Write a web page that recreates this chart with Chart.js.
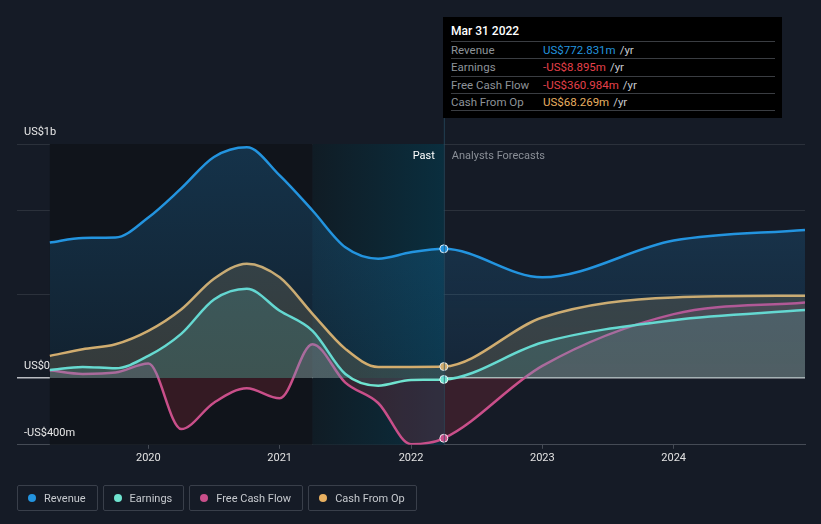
<!DOCTYPE html>
<html>
<head>
<meta charset="utf-8">
<script src="https://cdn.jsdelivr.net/npm/chart.js@4.4.1/dist/chart.umd.min.js"></script>
<style>
  html, body { margin:0; padding:0; background:#151b26; }
  body { width:821px; height:524px; position:relative; overflow:hidden; font-family:Roboto, "Noto Sans", sans-serif; }
  #wrap { position:absolute; left:0; top:0; width:821px; height:524px; }
  #tip { position:absolute; left:443px; top:17px; width:339px; height:101px; background:#000; box-sizing:border-box; padding:7px 7px 0 8px; }
  #tip .title { color:#fff; font-size:12px; font-weight:500; height:17px; line-height:15px; }
  #tip .row { border-top:1px solid #3a3d42; height:16.3px; line-height:16.3px; font-size:11.5px; color:#8e9399; display:flex; }
  #tip .row:last-child { border-bottom:1px solid #3a3d42; }
  #tip .lab { width:92px; }
  #tip .unit { color:#c8cbd0; margin-left:4px; }
  #legend { position:absolute; left:17px; top:485px; display:flex; gap:5px; }
  .item { height:26px; box-sizing:border-box; border:1px solid #393f4a; border-radius:2px; display:flex; align-items:center; padding:0 11px 0 10px; font-size:11px; color:#c6c9ce; }
  .dot { width:8px; height:8px; border-radius:50%; margin-right:8px; }
</style>
</head>
<body>
<div id="wrap"><canvas id="chart" width="821" height="524"></canvas></div>
<div id="tip"></div>
<div id="legend"></div>
<script>
// dates as decimal years (quarterly past, yearly analyst forecasts)
const dates    = [2019.25, 2019.5, 2019.75, 2020, 2020.25, 2020.5, 2020.75, 2021, 2021.25, 2021.5, 2021.75, 2022, 2022.25, 2023, 2024, 2025];
const revenue  = [810, 838, 840, 960, 1134, 1322, 1380, 1212, 1002, 782, 714, 752, 772.831, 602, 822, 886];
const earnings = [48, 66, 58, 132, 264, 470, 534, 402, 282, 24, -46, -12, -8.895, 212, 346, 406];
const fcf      = [46, 24, 32, 86, -306, -148, -62, -122, 202, -28, -150, -396, -360.984, 72, 382, 452];
const cfo      = [132, 172, 202, 282, 410, 594, 684, 602, 384, 174, 66, 66, 68.269, 362, 482, 492];

const seriesNames = ["Revenue", "Earnings", "Free Cash Flow", "Cash From Op"];
const colors = ["#2394df", "#6fe3cf", "#c94f8a", "#e8b060"];
const xTicks = [2020, 2021, 2022, 2023, 2024];
const yGrid = [-400, 0, 500, 1000, 1400];
const yLabels = [[1400, "US$1b"], [0, "US$0"], [-400, "-US$400m"]];
const nowIndex = 12;   // Mar 31 2022
const tipTitle = "Mar 31 2022";
const tipValues = ["US$772.831m", "-US$8.895m", "-US$360.984m", "US$68.269m"];
const tipColors = ["#2394df", "#e5404b", "#e5404b", "#e8b060"];

// tooltip box
const tip = document.getElementById("tip");
let html = `<div class="title">${tipTitle}</div>`;
seriesNames.forEach((n, i) => {
  html += `<div class="row"><span class="lab">${n}</span><span style="color:${tipColors[i]}">${tipValues[i]}</span><span class="unit">/yr</span></div>`;
});
tip.innerHTML = html;

// legend
const legend = document.getElementById("legend");
seriesNames.forEach((n, i) => {
  legend.innerHTML += `<div class="item"><span class="dot" style="background:${colors[i]}"></span>${n}</div>`;
});

function pts(arr){ return arr.map((v, i) => ({ x: dates[i], y: v })); }

function ds(label, arr, color, above, below){
  return {
    label,
    data: pts(arr),
    borderColor: color,
    borderWidth: 2.5,
    cubicInterpolationMode: "monotone",
    fill: { target: "origin", above: above, below: below },
    pointRadius: c => c.dataIndex === nowIndex ? 4 : 0,
    pointBackgroundColor: color,
    pointBorderColor: "rgba(255,255,255,0.85)",
    pointBorderWidth: 1,
    pointHoverRadius: 0
  };
}

// revenue fill fades a little towards zero
function revFill(c){
  const { chart } = c;
  const a = chart.chartArea;
  if (!a) return "rgba(35,148,223,0.2)";
  const y = chart.scales.y;
  const g = chart.ctx.createLinearGradient(0, a.top, 0, y.getPixelForValue(0));
  g.addColorStop(0, "rgba(35,148,223,0.24)");
  g.addColorStop(1, "rgba(35,148,223,0.1)");
  return g;
}

// background bands + labels
const decor = {
  id: "decor",
  beforeDatasetsDraw(chart){
    const { ctx, chartArea: a, scales: { x } } = chart;
    const x0 = x.getPixelForValue(dates[0]);
    const x1 = x.getPixelForValue(dates[nowIndex] - 1);
    const x2 = x.getPixelForValue(dates[nowIndex]);
    ctx.save();
    ctx.fillStyle = "#10141b";
    ctx.fillRect(x0, a.top, x1 - x0, a.bottom - a.top);
    const g = ctx.createLinearGradient(x1, 0, x2, 0);
    g.addColorStop(0, "#101c25");
    g.addColorStop(1, "#0a2e3e");
    ctx.fillStyle = g;
    ctx.fillRect(x1, a.top, x2 - x1, a.bottom - a.top);
    ctx.restore();
  },
  afterDatasetsDraw(chart){
    const { ctx, chartArea: a, scales: { x, y } } = chart;
    const xn = x.getPixelForValue(dates[nowIndex]);
    ctx.save();
    ctx.strokeStyle = "rgba(40,80,100,0.7)";
    ctx.lineWidth = 1;
    ctx.beginPath();
    ctx.moveTo(xn + 0.5, 118);
    ctx.lineTo(xn + 0.5, a.bottom);
    ctx.stroke();
    ctx.font = "11px Roboto";
    ctx.textBaseline = "middle";
    ctx.fillStyle = "#e8e8e8";
    yLabels.forEach(([v, t]) => ctx.fillText(t, a.left + 7, y.getPixelForValue(v) - 12));
    ctx.textAlign = "right";
    ctx.fillStyle = "#ffffff";
    ctx.fillText("Past", xn - 9, a.top + 12);
    ctx.textAlign = "left";
    ctx.fillStyle = "#8a8f97";
    ctx.fillText("Analysts Forecasts", xn + 8, a.top + 12);
    ctx.restore();
  }
};

const revDs = ds("Revenue", revenue, colors[0], null, null);
revDs.fill = "origin";
revDs.backgroundColor = revFill;

new Chart(document.getElementById("chart").getContext("2d"), {
  type: "line",
  data: {
    datasets: [
      revDs,
      ds("Earnings", earnings, colors[1], "rgba(111,227,207,0.16)", "rgba(111,227,207,0.1)"),
      ds("Free Cash Flow", fcf, colors[2], "rgba(201,110,150,0.15)", "rgba(200,50,70,0.2)"),
      ds("Cash From Op", cfo, colors[3], "rgba(232,176,96,0.18)", "rgba(232,176,96,0.18)")
    ]
  },
  options: {
    responsive: false,
    animation: false,
    events: [],
    layout: { padding: { left: 17, right: 16, top: 144, bottom: 56 } },
    plugins: { legend: { display: false }, tooltip: { enabled: false } },
    scales: {
      x: {
        type: "linear",
        min: 2019,
        max: 2025,
        afterBuildTicks: s => { s.ticks = xTicks.map(v => ({ value: v })); },
        ticks: { color: "#e2e2e2", font: { family: "Roboto", size: 11 }, padding: 3, callback: v => String(v), maxRotation: 0 },
        grid: { drawOnChartArea: false, tickLength: 4, color: "#454b55" },
        border: { color: "#454b55" }
      },
      y: {
        min: -400,
        max: 1400,
        afterBuildTicks: s => { s.ticks = yGrid.map(v => ({ value: v })); },
        afterFit: s => { s.width = 0; },
        ticks: { display: false },
        grid: {
          drawTicks: false,
          color: c => c.tick.value === 0 ? "#b9bcc1" : "#2b313b",
          lineWidth: c => c.tick.value === 0 ? 1.5 : 1
        },
        border: { display: false }
      }
    }
  },
  plugins: [decor]
});
</script>
</body>
</html>
